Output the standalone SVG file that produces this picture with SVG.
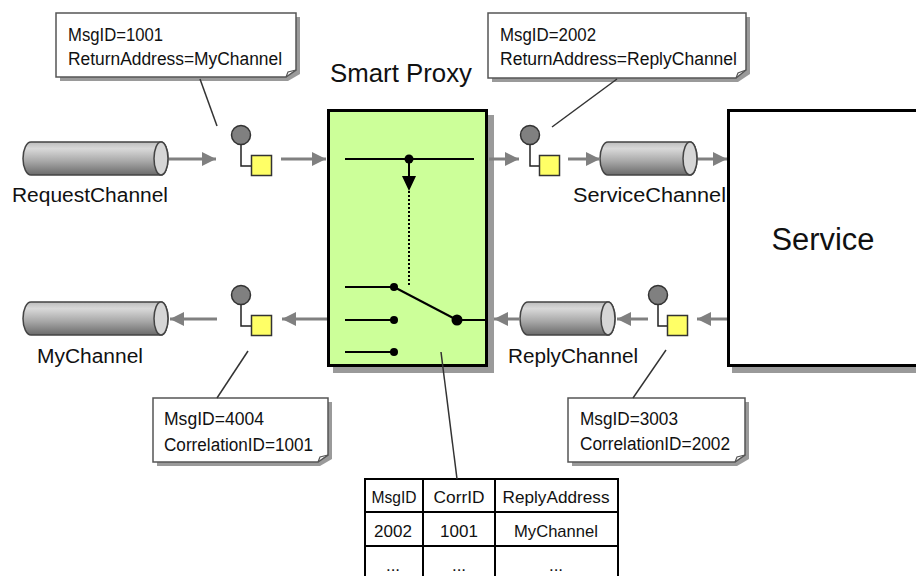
<svg xmlns="http://www.w3.org/2000/svg" width="916" height="576" viewBox="0 0 916 576">
<style>
  text { font-family: "Liberation Sans", Arial, sans-serif; fill: #111; }
  .note { fill: #fff; stroke: #555; stroke-width: 1.5; }
  .noteShadow { fill: #9a9a9a; }
  .nt { font-size: 18px; }
  .lbl { font-size: 20px; }
  .cylBody { fill: url(#cylGrad); stroke: #444; stroke-width: 1.5; }
  .cylCap { fill: #d6d6d6; stroke: #444; stroke-width: 1.5; }
  .flow { stroke: #808080; stroke-width: 3; fill: none; marker-end: url(#gArrow); }
  .pointer { stroke: #333; stroke-width: 1.5; fill: none; }
  .msgCircle { fill: #808080; stroke: #333; stroke-width: 1.5; }
  .msgSquare { fill: #ffff66; stroke: #333; stroke-width: 1.5; }
  .msgLink { stroke: #222; stroke-width: 1.5; fill: none; }
  .tbl { fill: #fff; stroke: #000; stroke-width: 2; }
  .tt { font-size: 17px; text-anchor: middle; }
</style>
<defs>
  <linearGradient id="cylGrad" x1="0" y1="0" x2="0" y2="1">
    <stop offset="0" stop-color="#bdbdbd"/>
    <stop offset="0.2" stop-color="#d9d9d9"/>
    <stop offset="0.6" stop-color="#a6a6a6"/>
    <stop offset="1" stop-color="#6a6a6a"/>
  </linearGradient>
  <marker id="gArrow" markerUnits="userSpaceOnUse" markerWidth="15" markerHeight="14" refX="14" refY="7" orient="auto">
    <path d="M0,0 L14,7 L0,14 Z" fill="#808080"/>
  </marker>
</defs>

<!-- Notes -->
<g id="note1">
  <path class="noteShadow" d="M60,17 H300 V74 L288,81 H60 Z"/>
  <path class="note" d="M56,13 H296 V70 L286,77 H56 Z"/>
  <path d="M286,77 L288,72 L296,70" fill="none" stroke="#555" stroke-width="1.2"/>
  <text class="nt" x="68" y="41" textLength="95" lengthAdjust="spacingAndGlyphs">MsgID=1001</text>
  <text class="nt" x="68" y="65" textLength="214" lengthAdjust="spacingAndGlyphs">ReturnAddress=MyChannel</text>
</g>
<g id="note2">
  <path class="noteShadow" d="M492,17 H750 V74 L738,82 H492 Z"/>
  <path class="note" d="M488,13 H746 V70 L736,78 H488 Z"/>
  <path d="M736,78 L738,73 L746,70" fill="none" stroke="#555" stroke-width="1.2"/>
  <text class="nt" x="500" y="41" textLength="96" lengthAdjust="spacingAndGlyphs">MsgID=2002</text>
  <text class="nt" x="500" y="65" textLength="237" lengthAdjust="spacingAndGlyphs">ReturnAddress=ReplyChannel</text>
</g>
<g id="note3">
  <path class="noteShadow" d="M157,402 H332 V459 L320,466 H157 Z"/>
  <path class="note" d="M153,398 H328 V455 L318,462 H153 Z"/>
  <path d="M318,462 L320,457 L328,455" fill="none" stroke="#555" stroke-width="1.2"/>
  <text class="nt" x="164" y="425" textLength="100" lengthAdjust="spacingAndGlyphs">MsgID=4004</text>
  <text class="nt" x="164" y="451" textLength="149" lengthAdjust="spacingAndGlyphs">CorrelationID=1001</text>
</g>
<g id="note4">
  <path class="noteShadow" d="M572,402 H749 V459 L737,466 H572 Z"/>
  <path class="note" d="M568,398 H745 V455 L735,462 H568 Z"/>
  <path d="M735,462 L737,457 L745,455" fill="none" stroke="#555" stroke-width="1.2"/>
  <text class="nt" x="580" y="425" textLength="98" lengthAdjust="spacingAndGlyphs">MsgID=3003</text>
  <text class="nt" x="580" y="450" textLength="150" lengthAdjust="spacingAndGlyphs">CorrelationID=2002</text>
</g>

<!-- Channels -->
<g id="requestChannel">
  <path class="cylBody" d="M31,142 H161 A7,16.5 0 0 1 161,175 H31 A8,16.5 0 0 1 31,142 Z"/>
  <ellipse class="cylCap" cx="161" cy="158.5" rx="7" ry="16.5"/>
  <text class="lbl" x="12" y="202" textLength="156" lengthAdjust="spacingAndGlyphs">RequestChannel</text>
</g>
<g id="serviceChannel">
  <path class="cylBody" d="M608,142 H690 A7,16.5 0 0 1 690,175 H608 A8,16.5 0 0 1 608,142 Z"/>
  <ellipse class="cylCap" cx="690" cy="158.5" rx="7" ry="16.5"/>
  <text class="lbl" x="573" y="202" textLength="153" lengthAdjust="spacingAndGlyphs">ServiceChannel</text>
</g>
<g id="myChannel">
  <path class="cylBody" d="M31,302 H161 A7,16.5 0 0 1 161,335 H31 A8,16.5 0 0 1 31,302 Z"/>
  <ellipse class="cylCap" cx="161" cy="318.5" rx="7" ry="16.5"/>
  <text class="lbl" x="37" y="363" textLength="106" lengthAdjust="spacingAndGlyphs">MyChannel</text>
</g>
<g id="replyChannel">
  <path class="cylBody" d="M528,302 H608 A7,16.5 0 0 1 608,335 H528 A8,16.5 0 0 1 528,302 Z"/>
  <ellipse class="cylCap" cx="608" cy="318.5" rx="7" ry="16.5"/>
  <text class="lbl" x="508" y="363" textLength="130" lengthAdjust="spacingAndGlyphs">ReplyChannel</text>
</g>

<!-- Messages -->
<g id="msg1">
  <path class="msgLink" d="M241,140 V166 H252"/>
  <circle class="msgCircle" cx="241" cy="135" r="9.5"/>
  <rect class="msgSquare" x="251.5" y="155.5" width="20" height="20"/>
</g>
<g id="msg2">
  <path class="msgLink" d="M530,140 V166 H540"/>
  <circle class="msgCircle" cx="530" cy="135" r="9.5"/>
  <rect class="msgSquare" x="539.5" y="155.5" width="20" height="20"/>
</g>
<g id="msg3">
  <path class="msgLink" d="M241,300 V326 H252"/>
  <circle class="msgCircle" cx="241" cy="295" r="9.5"/>
  <rect class="msgSquare" x="251.5" y="315.5" width="20" height="20"/>
</g>
<g id="msg4">
  <path class="msgLink" d="M658,300 V326 H668"/>
  <circle class="msgCircle" cx="658" cy="295" r="9.5"/>
  <rect class="msgSquare" x="667.5" y="315.5" width="20" height="20"/>
</g>

<!-- Smart Proxy -->
<g id="smartProxy">
  <text x="330" y="82" font-size="25" textLength="142" lengthAdjust="spacingAndGlyphs">Smart Proxy</text>
  <rect x="333" y="115" width="161" height="258" fill="#9a9a9a"/>
  <rect x="328.5" y="110.5" width="158" height="255" fill="#ccff99" stroke="#000" stroke-width="3"/>
  <line x1="345" y1="159" x2="474" y2="159" stroke="#000" stroke-width="2"/>
  <circle cx="409" cy="159" r="4.5" fill="#000"/>
  <line x1="409" y1="159" x2="409" y2="178" stroke="#000" stroke-width="2"/>
  <path d="M402,176 L416,176 L409,191 Z" fill="#000"/>
  <line x1="409" y1="191" x2="409" y2="286" stroke="#000" stroke-width="2" stroke-dasharray="2 2"/>
  <line x1="345" y1="287" x2="394" y2="287" stroke="#000" stroke-width="2"/>
  <line x1="345" y1="320" x2="394" y2="320" stroke="#000" stroke-width="2"/>
  <line x1="345" y1="352" x2="394" y2="352" stroke="#000" stroke-width="2"/>
  <circle cx="394" cy="287" r="4" fill="#000"/>
  <circle cx="394" cy="320" r="4" fill="#000"/>
  <circle cx="394" cy="352" r="4" fill="#000"/>
  <line x1="394" y1="287" x2="457" y2="320" stroke="#000" stroke-width="2"/>
  <line x1="457" y1="320" x2="486" y2="320" stroke="#000" stroke-width="2"/>
  <circle cx="457" cy="320" r="5.5" fill="#000"/>
</g>

<!-- Service -->
<g id="service">
  <rect x="732" y="115" width="200" height="258" fill="#9a9a9a"/>
  <rect x="728.5" y="110.5" width="200" height="255" fill="#fff" stroke="#000" stroke-width="3"/>
  <text x="823" y="250" font-size="31" text-anchor="middle" textLength="103" lengthAdjust="spacingAndGlyphs">Service</text>
</g>

<!-- Table -->
<g id="table">
  <rect class="tbl" x="365" y="479" width="253" height="110"/>
  <line x1="365" y1="512" x2="618" y2="512" stroke="#000" stroke-width="2"/>
  <line x1="365" y1="546" x2="618" y2="546" stroke="#000" stroke-width="2"/>
  <line x1="423" y1="479" x2="423" y2="580" stroke="#000" stroke-width="2"/>
  <line x1="495" y1="479" x2="495" y2="580" stroke="#000" stroke-width="2"/>
  <text class="tt" x="394" y="503" textLength="45" lengthAdjust="spacingAndGlyphs">MsgID</text>
  <text class="tt" x="459" y="503" textLength="51" lengthAdjust="spacingAndGlyphs">CorrID</text>
  <text class="tt" x="556" y="503" textLength="107" lengthAdjust="spacingAndGlyphs">ReplyAddress</text>
  <text class="tt" x="393" y="537">2002</text>
  <text class="tt" x="459" y="537">1001</text>
  <text class="tt" x="556" y="537" textLength="84" lengthAdjust="spacingAndGlyphs">MyChannel</text>
  <text class="tt" x="393" y="571">...</text>
  <text class="tt" x="459" y="571">...</text>
  <text class="tt" x="556" y="571">...</text>
</g>

<!-- Connectors -->
<g id="connectors">
  <line class="flow" x1="169" y1="159" x2="216" y2="159"/>
  <line class="flow" x1="281" y1="159" x2="326" y2="159"/>
  <line class="flow" x1="489" y1="159" x2="519" y2="159"/>
  <line class="flow" x1="568" y1="159" x2="600" y2="159"/>
  <line class="flow" x1="698" y1="159" x2="727" y2="159"/>
  <line class="flow" x1="727" y1="319" x2="697" y2="319"/>
  <line class="flow" x1="648" y1="319" x2="617" y2="319"/>
  <line class="flow" x1="520" y1="319" x2="494" y2="319"/>
  <line class="flow" x1="327" y1="319" x2="282" y2="319"/>
  <line class="flow" x1="217" y1="319" x2="170" y2="319"/>
  <line class="pointer" x1="200" y1="79" x2="217" y2="126"/>
  <line class="pointer" x1="617" y1="79" x2="552" y2="127"/>
  <line class="pointer" x1="248" y1="351" x2="217" y2="398"/>
  <line class="pointer" x1="666" y1="350" x2="633" y2="398"/>
  <line class="pointer" x1="441" y1="352" x2="457" y2="479"/>
</g>
</svg>
